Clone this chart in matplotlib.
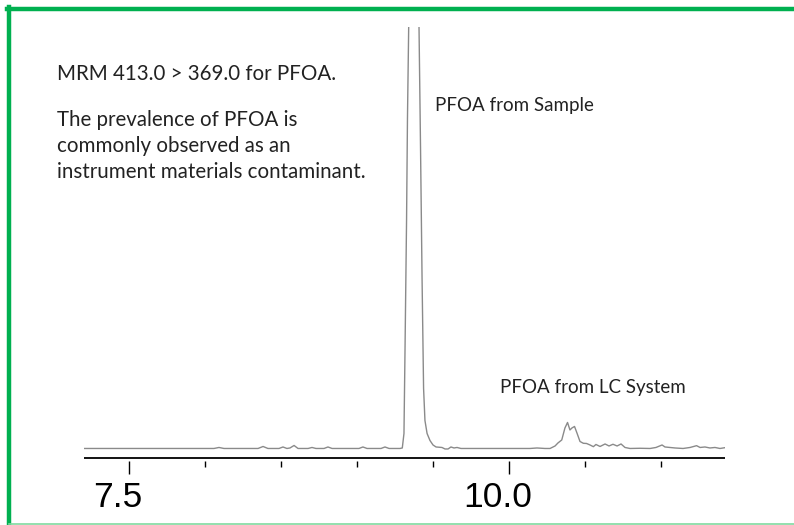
import numpy as np
import matplotlib.pyplot as plt
from matplotlib.lines import Line2D
from matplotlib.ticker import MultipleLocator
from matplotlib.transforms import ScaledTranslation

# retention time (min) and intensity (arbitrary units)
rt = [7.204, 7.967, 8.059, 8.092, 8.125, 8.349, 8.382, 8.414, 8.487, 8.513,
      8.539, 8.559, 8.586, 8.612, 8.678, 8.704, 8.730, 8.783, 8.809, 8.836,
      9.013, 9.039, 9.066, 9.158, 9.184, 9.211, 9.283, 9.298, 9.309, 9.316,
      9.326, 9.332, 9.340, 9.352, 9.374, 9.395, 9.408, 9.418, 9.428, 9.438,
      9.447, 9.461, 9.480, 9.500, 9.520, 9.559, 9.579, 9.599, 9.618, 9.638,
      9.658, 9.684, 9.743, 9.941, 10.138, 10.184, 10.237, 10.270, 10.303, 10.322,
      10.347, 10.368, 10.385, 10.401, 10.414, 10.431, 10.447, 10.467, 10.489, 10.510,
      10.533, 10.555, 10.572, 10.599, 10.632, 10.658, 10.684, 10.711, 10.737, 10.763,
      10.796, 10.862, 10.928, 10.967, 11.007, 11.026, 11.059, 11.092, 11.145, 11.191,
      11.234, 11.257, 11.289, 11.322, 11.355, 11.388, 11.421]
intensity = [0, 0, 0, 1.0, 0, 0, 2.0, 0, 0, 1.5,
             0, 0.5, 3.0, 0, 0, 1.0, 0, 0, 1.5, 0,
             0, 1.5, 0, 0, 1.5, 0, 0, 0.5, 15, 100,
             228, 330, 421, 580, 700, 580, 421, 300, 170, 60,
             28, 15, 8, 3.5, 1.5, 1, -0.5, -0.5, 1.5, 0.5,
             1, 0, 0, 0, 0, 0.5, 0, 0, 2.5, 5.5,
             8.5, 20.5, 26, 18.5, 20.5, 22, 15.5, 7, 5.2, 5,
             3.5, 1.8, 4, 2, 4.5, 2.5, 4.2, 2.5, 4.5, 1,
             0, 0.2, 0, 1, 3.5, 1.5, 1, 0.5, 0, 1,
             2.8, 1, 1.5, 0.5, 1, 0, 0.8]

major_ticks = [7.5, 10.0]
tick_labels = ['7.5', '10.0']

note_main = "MRM 413.0 > 369.0 for PFOA."
note_body = "The prevalence of PFOA is\ncommonly observed as an\ninstrument materials contaminant."
label_sample = "PFOA from Sample"
label_lc = "PFOA from LC System"

fig = plt.figure(figsize=(7.94, 5.25), dpi=100)
ax = fig.add_axes([0.1058, 0.121, 0.8073, 0.8276])

ax.plot(rt, intensity, color='#8a8a8a', lw=1.0, clip_on=True)
ax.set_xlim(7.204, 11.421)
ax.set_ylim(-13, 421.5)

# axis line sits a little above the tick marks
ax.axhline(-9.8, color='black', lw=1.3)
for s in ax.spines.values():
    s.set_visible(False)
ax.set_yticks([])
ax.set_xticks(major_ticks)
ax.set_xticklabels(tick_labels, fontsize=25.5, family='Liberation Sans')
ax.xaxis.set_minor_locator(MultipleLocator(0.5))
ax.tick_params(axis='x', which='major', length=9, width=1.0, pad=5)
ax.tick_params(axis='x', which='minor', length=4.5, width=1.0)
# labels in the original sit a bit left of their ticks
shift = ScaledTranslation(-11/100, 0, fig.dpi_scale_trans)
for lab in ax.get_xticklabels():
    lab.set_transform(lab.get_transform() + shift)

txt = dict(family='Lato', fontsize=14.8, color='#222222', transform=fig.transFigure)
fig.text(57/794, 1 - 74/525, note_main, va='center', ha='left', **txt)
fig.text(57/794, 1 - 146/525, note_body, va='center', ha='left', linespacing=1.38, **txt)
lab_txt = dict(txt, fontsize=13.5)
fig.text(435/794, 1 - 106/525, label_sample, va='center', ha='left', **lab_txt)
fig.text(500/794, 1 - 388/525, label_lc, va='center', ha='left', **lab_txt)

# green frame
green = '#00b050'
fig.add_artist(Line2D([9/794, 9/794], [0, 1 - 7/525], color=green, lw=3.2))
fig.add_artist(Line2D([7/794, 1], [1 - 9/525, 1 - 9/525], color=green, lw=3.2))
fig.add_artist(Line2D([9/794, 1], [1.5/525, 1.5/525], color='#80d9a0', lw=1.2))

fig.savefig('out.png', dpi=100)
